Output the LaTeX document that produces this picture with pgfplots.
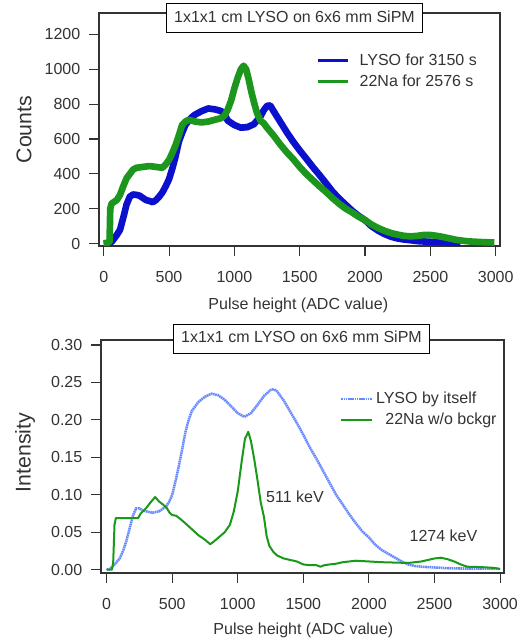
\documentclass[border=0pt]{standalone}
\usepackage{fontspec}
\setmainfont{Liberation Sans}
\usepackage{pgfplots}
\pgfplotsset{compat=1.18}
\definecolor{txt}{HTML}{333333}
\definecolor{lyso}{HTML}{0A10CC}
\definecolor{na}{HTML}{1C961C}
\definecolor{lysolt}{HTML}{6688FF}
\definecolor{nab}{HTML}{189A18}
\pgfplotsset{
  igor/.style={
    scale only axis,
    axis line style={draw=txt, line width=0.8pt},
    tick style={draw=txt, line width=0.8pt},
    tick align=outside, major tick length=7.5pt,
    xtick pos=bottom, ytick pos=left,
    xtick={0,500,...,3000},
    /pgf/number format/assume math mode=true,
    /pgf/number format/1000 sep={},
    ticklabel style={font=\fontsize{12}{14}\selectfont, text=txt},
    xticklabel style={yshift=-8pt},
    yticklabel style={xshift=-3pt},
    xlabel style={font=\fontsize{12}{14}\selectfont, text=txt},
    ylabel style={font=\fontsize{16}{19}\selectfont, text=txt},
    title style={draw=black, fill=white, line width=0.75pt, text=txt,
      font=\fontsize{12}{14}\selectfont, anchor=center, inner xsep=6pt,
      inner ysep=0pt, text height=9pt, text depth=3pt,
      minimum height=21.75pt},
    legend cell align=left,
    legend style={draw=none, fill=none, font=\fontsize{12}{14}\selectfont,
      text=txt, row sep=1.5pt},
  }
}
\begin{document}
\begin{tikzpicture}
\path[use as bounding box] (0,0) rectangle (390.75pt,481.5pt);
% ---------------- top ----------------
\begin{axis}[igor,
  at={(74.25pt,297pt)}, anchor=south west,
  width=300.75pt, height=174.75pt,
  xmin=-36, xmax=3033, ymin=-13, ymax=1322,
  ytick={0,200,...,1200},
  title={1x1x1 cm LYSO on 6x6 mm SiPM},
  title style={at={(0.4875,1)}, yshift=-10.1pt},
  xlabel={Pulse height (ADC value)},
  xlabel style={at={(0.497,0)}, anchor=center, yshift=-44.5pt},
  ylabel={Counts},
  ylabel style={at={(-0.187,0.5)}, anchor=center},
  legend style={at={(0.531,0.85)}, anchor=north west},
  legend image code/.code={\draw[#1, line width=2.2pt] (0pt,0pt) -- (23pt,0pt);\path (27pt,0pt);},
]
\addplot[lyso, line width=5pt, line join=round] coordinates {
(0,0) (20,2) (40,5) (60,10) (80,30) (100,50) (125,80) (150,150) (175,225)
(200,270) (225,282) (250,280) (275,275) (300,262) (325,250) (350,245)
(375,238) (400,250) (425,270) (450,295) (475,330) (500,370) (525,430)
(550,500) (575,585) (600,635) (625,680) (650,705) (675,725) (700,740)
(750,760) (800,775) (850,770) (900,760) (925,740) (950,705) (1000,680)
(1050,665) (1100,668) (1150,685) (1200,730) (1225,765) (1250,790)
(1275,792) (1300,760) (1350,700) (1400,640) (1450,585) (1500,535)
(1550,488) (1600,440) (1650,395) (1700,348) (1750,300) (1800,260)
(1850,225) (1900,190) (1950,160) (2000,135) (2050,100) (2100,75)
(2150,55) (2200,40) (2250,30) (2300,24) (2350,20) (2400,15) (2500,11)
(2600,8) (2700,5) (2730,3)
};
\addlegendentry{LYSO for 3150 s}
\addplot[na, line width=5pt, line join=round] coordinates {
(0,3) (30,5) (45,10) (50,200) (60,230) (80,240) (100,250) (125,280)
(150,330) (175,375) (200,400) (225,425) (250,435) (300,440) (350,445)
(400,440) (450,435) (475,455) (500,480) (525,520) (550,565) (575,620)
(600,680) (625,700) (650,710) (700,700) (750,695) (800,700) (850,710)
(900,720) (925,735) (950,770) (975,820) (1000,890) (1025,950) (1050,1000)
(1070,1020) (1090,1000) (1110,940) (1130,870) (1150,810) (1175,745)
(1200,705) (1225,690) (1250,665) (1300,620) (1350,570) (1400,525)
(1450,485) (1500,440) (1550,400) (1600,365) (1650,330) (1700,298)
(1750,262) (1800,230) (1850,202) (1900,180) (1950,155) (2000,135)
(2050,110) (2100,90) (2150,74) (2200,61) (2250,52) (2300,45) (2350,42)
(2400,45) (2450,50) (2500,50) (2550,45) (2600,38) (2650,30) (2700,22)
(2750,17) (2800,13) (2850,11) (2900,9) (2950,8) (2990,7)
};
\addlegendentry{22Na for 2576 s}
\end{axis}
% ---------------- bottom ----------------
\begin{axis}[igor,
  at={(75.75pt,51.75pt)}, anchor=south west,
  width=302.25pt, height=174.75pt,
  xmin=-43, xmax=3030, ymin=-0.0044, ymax=0.3067,
  ytick={0,0.05,...,0.301},
  yticklabel style={/pgf/number format/.cd, fixed, fixed zerofill, precision=2},
  title={1x1x1 cm LYSO on 6x6 mm SiPM},
  title style={at={(0.4975,1)}, yshift=-4.9pt},
  xlabel={Pulse height (ADC value)},
  xlabel style={at={(0.502,0)}, anchor=center, yshift=-43pt},
  ylabel={Intensity},
  ylabel style={at={(-0.1886,0.517)}, anchor=center},
  legend style={at={(0.583,0.80)}, anchor=north west},
  legend image code/.code={\draw[#1] (0pt,0pt) -- (23pt,0pt);},
]
\addplot[lysolt, line width=1.9pt, dash pattern=on 1.2pt off 0.45pt] coordinates {
(0,0) (25,0.001) (50,0.005) (75,0.010) (100,0.015) (125,0.025) (150,0.038)
(175,0.055) (200,0.072) (225,0.082) (250,0.082) (275,0.079) (300,0.078)
(350,0.076) (400,0.078) (450,0.084) (475,0.09) (500,0.10) (525,0.118)
(550,0.138) (575,0.160) (600,0.183) (625,0.200) (650,0.212) (700,0.224)
(750,0.231) (800,0.235) (850,0.233) (900,0.227) (950,0.218) (1000,0.209)
(1050,0.204) (1100,0.209) (1150,0.220) (1200,0.232) (1250,0.240)
(1275,0.241) (1300,0.238) (1350,0.226) (1400,0.211) (1450,0.196)
(1500,0.180) (1550,0.163) (1600,0.148) (1650,0.132) (1700,0.116)
(1750,0.100) (1800,0.087) (1850,0.074) (1900,0.062) (1950,0.051)
(2000,0.043) (2050,0.033) (2100,0.026) (2150,0.021) (2200,0.016)
(2250,0.011) (2300,0.007) (2350,0.005) (2400,0.004) (2500,0.003)
(2600,0.002) (2700,0.0016) (2800,0.0016) (2900,0.0015) (3000,0.0012)
};
\addlegendentry{LYSO by itself}
\addplot[nab, line width=1.5pt, line join=round] coordinates {
(0,0) (40,0) (50,0.01) (60,0.060) (70,0.069) (100,0.069) (150,0.069)
(200,0.069) (240,0.069) (260,0.075) (300,0.082) (340,0.091) (370,0.097)
(400,0.091) (430,0.087) (460,0.082) (480,0.076) (500,0.073) (530,0.072)
(560,0.068) (600,0.062) (650,0.054) (700,0.046) (750,0.040) (790,0.034)
(820,0.038) (860,0.044) (900,0.050) (940,0.060) (970,0.078) (1000,0.105)
(1030,0.145) (1055,0.175) (1080,0.184) (1100,0.172) (1125,0.148)
(1150,0.120) (1175,0.090) (1200,0.070) (1220,0.045) (1240,0.032)
(1270,0.024) (1300,0.019) (1350,0.015) (1400,0.013) (1450,0.011)
(1500,0.007) (1550,0.006) (1600,0.006) (1630,0.004) (1660,0.006)
(1700,0.007) (1750,0.008) (1800,0.010) (1850,0.011) (1900,0.012)
(2000,0.011) (2100,0.010) (2200,0.0095) (2300,0.009) (2400,0.011)
(2450,0.013) (2500,0.015) (2550,0.016) (2600,0.014) (2650,0.011)
(2700,0.007) (2750,0.004) (2850,0.0035) (2950,0.0025) (3000,0.001)
};
\addlegendentry{\hspace*{7pt}22Na w/o bckgr}
\node[font=\fontsize{12}{14}\selectfont, text=txt] at (axis cs:1436,0.097) {511 keV};
\node[font=\fontsize{12}{14}\selectfont, text=txt] at (axis cs:2568,0.045) {1274 keV};
\end{axis}
\end{tikzpicture}
\end{document}
